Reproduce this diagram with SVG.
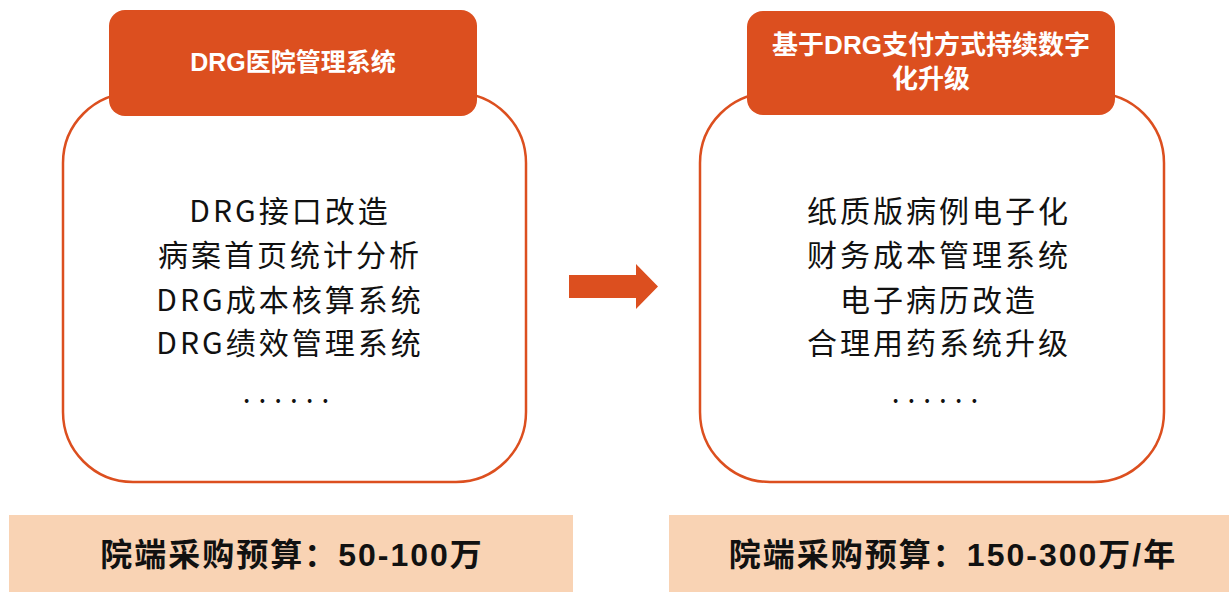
<svg xmlns="http://www.w3.org/2000/svg" width="1229" height="592" viewBox="0 0 1229 592">
<style>
.outer{fill:#fff;stroke:#DC4F1F;stroke-width:2.5}
.hdr{fill:#DC4F1F}
.htxt{fill:#fff;font-family:"Liberation Sans","Noto Sans CJK SC",sans-serif;font-weight:bold;text-anchor:middle}
.body{fill:#111;font-family:"Noto Sans CJK SC",sans-serif;font-size:30px;text-anchor:middle;letter-spacing:3px}
.dots{fill:#111;font-family:"Noto Sans CJK SC",sans-serif;font-size:28px;text-anchor:middle;letter-spacing:8px}
.foot{fill:#F9D3B4}
.ftxt{fill:#111;font-family:"Liberation Sans","Noto Sans CJK SC",sans-serif;font-weight:bold;font-size:32px;text-anchor:middle;letter-spacing:2px}
</style>
<rect width="1229" height="592" fill="#fff"/>
<g id="left-node">
<rect class="outer" x="63" y="93" width="463" height="389" rx="70" ry="70"/>
<rect class="hdr" x="109" y="10" width="368" height="106" rx="16" ry="16"/>
<text class="htxt" x="293" y="71" font-size="25">DRG医院管理系统</text>
<text class="body" x="290" y="222">DRG接口改造</text>
<text class="body" x="290" y="266">病案首页统计分析</text>
<text class="body" x="290" y="311">DRG成本核算系统</text>
<text class="body" x="290" y="354">DRG绩效管理系统</text>
<text class="dots" x="290" y="403">......</text>
</g>
<g id="right-node">
<rect class="outer" x="700" y="93" width="464" height="389" rx="70" ry="70"/>
<rect class="hdr" x="747" y="11" width="368" height="104" rx="16" ry="16"/>
<text class="htxt" x="931" y="54" font-size="26">基于DRG支付方式持续数字</text>
<text class="htxt" x="931" y="88" font-size="26">化升级</text>
<text class="body" x="939" y="222">纸质版病例电子化</text>
<text class="body" x="939" y="266">财务成本管理系统</text>
<text class="body" x="939" y="311">电子病历改造</text>
<text class="body" x="939" y="354">合理用药系统升级</text>
<text class="dots" x="939" y="403">......</text>
</g>
<g id="connectors">
<polygon fill="#DC4F1F" points="569,275 636,275 636,264 658,286.5 636,309 636,298 569,298"/>
</g>
<g id="left-budget">
<rect class="foot" x="9" y="515" width="564" height="77"/>
<text class="ftxt" x="292" y="566">院端采购预算：50-100万</text>
</g>
<g id="right-budget">
<rect class="foot" x="669" y="515" width="560" height="77"/>
<text class="ftxt" x="953" y="566">院端采购预算：150-300万/年</text>
</g>
</svg>
